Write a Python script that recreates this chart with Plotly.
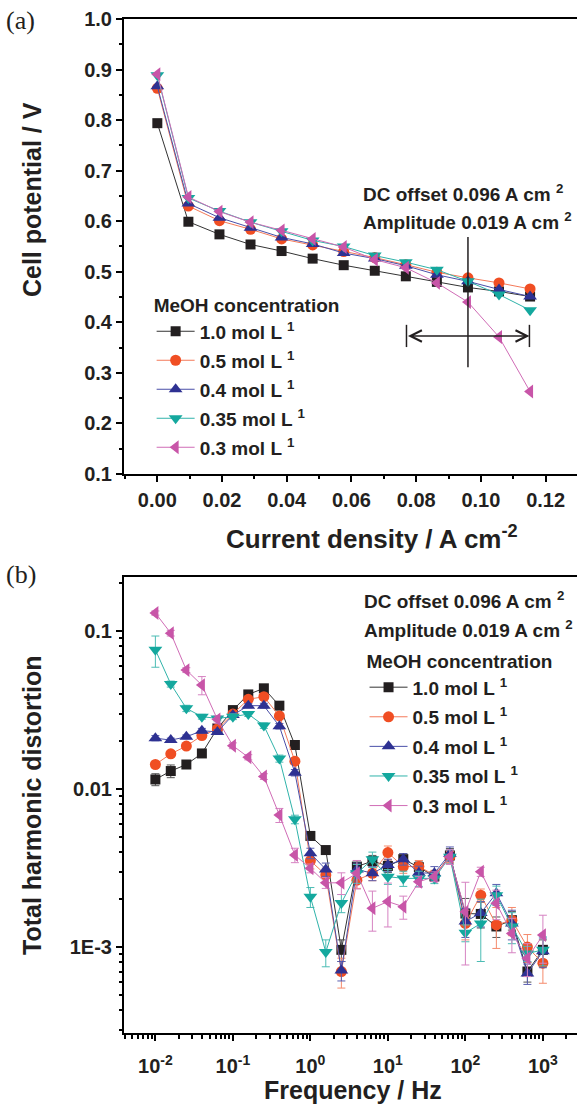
import plotly.graph_objects as go

# ---------------- data: panel (a) ----------------
current_density = [0, 0.0096, 0.0192, 0.0288, 0.0384, 0.048, 0.0576, 0.0672, 0.0768, 0.0864, 0.096, 0.1056, 0.1152]
v_10 = [0.794, 0.599, 0.574, 0.554, 0.541, 0.526, 0.513, 0.502, 0.491, 0.480, 0.469, 0.461, 0.451]
v_05 = [0.863, 0.630, 0.601, 0.584, 0.565, 0.553, 0.540, 0.528, 0.514, 0.499, 0.488, 0.478, 0.466]
v_04 = [0.867, 0.635, 0.607, 0.587, 0.568, 0.555, 0.537, 0.526, 0.512, 0.494, 0.481, 0.465, 0.451]
v_035 = [0.889, 0.646, 0.620, 0.598, 0.580, 0.562, 0.550, 0.532, 0.519, 0.504, 0.481, 0.455, 0.424]
v_03 = [0.891, 0.648, 0.619, 0.598, 0.582, 0.565, 0.549, 0.524, 0.508, 0.478, 0.440, 0.371, 0.263]

dc_offset = 0.096
amplitude = 0.019

# ---------------- data: panel (b) ----------------
frequency = [0.01, 0.0158, 0.0251, 0.0398, 0.0631, 0.1, 0.158, 0.251, 0.398, 0.631, 1.0, 1.58, 2.51,
             3.98, 6.31, 10, 15.8, 25.1, 39.8, 63.1, 100, 158, 251, 398, 631, 1000]
thd_10 = [0.0115, 0.013, 0.0143, 0.0168, 0.0242, 0.0316, 0.0397, 0.0434, 0.0337, 0.019, 0.00505, 0.00411, 0.00096,
          0.00323, 0.0035, 0.00326, 0.0036, 0.0032, 0.0028, 0.0038, 0.00163, 0.00162, 0.00135, 0.00148, 0.0007, 0.00096]
err_10 = [0.001, 0.0012, 0.0008, 0.0008, 0.001, 0.001, 0.001, 0.0012, 0.001, 0.0008, 0.0003, 0.0002, 0.00015,
          0.0003, 0.0003, 0.0003, 0.0003, 0.0003, 0.0002, 0.0004, 0.0004, 0.0003, 0.0002, 0.0002, 0.0001, 0.00015]
thd_05 = [0.0143, 0.0167, 0.0187, 0.0218, 0.024, 0.0298, 0.037, 0.0384, 0.029, 0.015, 0.00352, 0.00286, 0.0007,
          0.00265, 0.00293, 0.00396, 0.00323, 0.00323, 0.00286, 0.00373, 0.00141, 0.00213, 0.00138, 0.00148, 0.001, 0.00079]
err_05 = [0.0006, 0.0006, 0.0006, 0.0008, 0.0008, 0.001, 0.001, 0.001, 0.001, 0.0006, 0.0004, 0.0003, 0.00015,
          0.0003, 0.0003, 0.0004, 0.0003, 0.0003, 0.0002, 0.0003, 0.0003, 0.0002, 0.0004, 0.0003, 0.0002, 0.0002]
thd_04 = [0.021, 0.0204, 0.0214, 0.0234, 0.023, 0.0294, 0.0337, 0.0337, 0.025, 0.0127, 0.00392, 0.0031, 0.00071,
          0.0031, 0.00293, 0.0033, 0.0036, 0.00295, 0.00293, 0.0039, 0.00145, 0.00164, 0.00219, 0.00141, 0.00068, 0.00094]
err_04 = [0.0008, 0.0006, 0.0006, 0.0008, 0.0008, 0.001, 0.001, 0.0012, 0.001, 0.0006, 0.0003, 0.0003, 0.0001,
          0.0003, 0.0003, 0.0003, 0.0003, 0.0003, 0.0003, 0.0004, 0.0003, 0.0003, 0.0003, 0.0003, 0.0001, 0.0002]
thd_035 = [0.076, 0.0462, 0.0324, 0.0287, 0.028, 0.0287, 0.0298, 0.0252, 0.0156, 0.00643, 0.00208, 0.00093, 0.0019,
           0.00293, 0.00359, 0.00279, 0.00272, 0.00272, 0.00272, 0.00373, 0.00123, 0.00141, 0.00213, 0.00135, 0.00091, 0.00096]
err_035 = [0.017, 0.002, 0.0015, 0.001, 0.001, 0.0012, 0.001, 0.001, 0.0008, 0.0004, 0.0003, 0.00018, 0.00025,
           0.0004, 0.0004, 0.0003, 0.0003, 0.0003, 0.0002, 0.0004, 0.00015, 0.0006, 0.0003, 0.0003, 0.0001, 0.0002]
thd_03 = [0.13, 0.097, 0.0566, 0.0455, 0.0276, 0.0188, 0.0159, 0.012, 0.00684, 0.00382, 0.00315, 0.00255, 0.00255,
          0.00293, 0.00176, 0.00194, 0.0018, 0.00259, 0.00279, 0.00373, 0.00167, 0.003, 0.00189, 0.00122, 0.00085, 0.00119]
err_03 = [0.004, 0.004, 0.002, 0.006, 0.0015, 0.0008, 0.0006, 0.0005, 0.0007, 0.0004, 0.0002, 0.0002, 0.0004,
          0.0006, 0.0005, 0.0006, 0.0003, 0.0002, 0.0002, 0.0004, 0.0009, 0.0002, 0.0004, 0.0003, 0.0002, 0.0004]

labels = ["1.0 mol L <sup>1</sup>", "0.5 mol L <sup>1</sup>", "0.4 mol L <sup>1</sup>",
          "0.35 mol L <sup>1</sup>", "0.3 mol L <sup>1</sup>"]
x_ticks_b = [0.01, 0.1, 1, 10, 100, 1000]
x_ticktext_b = ["10<sup>-2</sup>", "10<sup>-1</sup>", "10<sup>0</sup>", "10<sup>1</sup>", "10<sup>2</sup>", "10<sup>3</sup>"]
y_ticks_b = [0.1, 0.01, 0.001]
y_ticktext_b = ["0.1", "0.01", "1E-3"]

# ---------------- styles ----------------
marker_colors = ["#231f20", "#f04e23", "#2e3192", "#14a89e", "#c855a8"]
line_colors = ["#333333", "#f47a5a", "#4a4fa8", "#30b3aa", "#d06cb6"]
err_colors = ["#555555", "#f58a6c", "#5a5fb0", "#4cbcb4", "#d683c2"]
symbols = ["square", "circle", "triangle-up", "triangle-down", "triangle-left"]
sizes = [10, 11, 12, 12, 12]
FONT = "Liberation Sans, Arial, sans-serif"
INK = "#231f20"


def bold(size):
    return dict(family=FONT, size=size, color=INK, weight="bold")


fig = go.Figure()

series_a = [v_10, v_05, v_04, v_035, v_03]
for i, ys in enumerate(series_a):
    fig.add_trace(go.Scatter(
        x=current_density, y=ys, mode="lines+markers", name=labels[i],
        line=dict(color=line_colors[i], width=1),
        marker=dict(symbol=symbols[i], size=sizes[i], color=marker_colors[i]),
        xaxis="x", yaxis="y", legend="legend", legendgroup="a%d" % i))

series_b = [(thd_10, err_10), (thd_05, err_05), (thd_04, err_04), (thd_035, err_035), (thd_03, err_03)]
for i, (ys, es) in enumerate(series_b):
    fig.add_trace(go.Scatter(
        x=frequency, y=ys, mode="lines+markers", name=labels[i],
        line=dict(color=line_colors[i], width=1),
        marker=dict(symbol=symbols[i], size=sizes[i], color=marker_colors[i]),
        error_y=dict(type="data", array=es, color=err_colors[i], thickness=1, width=4),
        xaxis="x2", yaxis="y2", legend="legend2", legendgroup="b%d" % i))

axis_common = dict(showline=True, linecolor="black", linewidth=2, ticks="outside",
                   tickcolor="black", tickwidth=1.5, ticklen=6, showgrid=False, zeroline=False,
                   tickfont=bold(20))

minor_x_b = [m * 10 ** e for e in range(-3, 4) for m in range(2, 10)]
minor_y_b = [m * 10 ** e for e in range(-4, 0) for m in range(2, 10)]

fig.update_layout(
    width=577, height=1110,
    margin=dict(l=124, r=0, t=19, b=77),
    paper_bgcolor="white", plot_bgcolor="white",
    font=dict(family=FONT, color=INK),
    xaxis=dict(**axis_common, domain=[0, 1], anchor="y", range=[-0.0103, 0.1297],
               dtick=0.02, tick0=0, tickformat=".2f", mirror=True, ticklabelstandoff=1,
               minor=dict(dtick=0.01, ticks="outside", ticklen=3.5, tickwidth=1.5, tickcolor="black")),
    yaxis=dict(**axis_common, domain=[0.5513, 1.0], anchor="x", range=[0.0999, 1.0001],
               dtick=0.1, tick0=0, tickformat=".1f",
               minor=dict(dtick=0.05, ticks="outside", ticklen=3.5, tickwidth=1.5, tickcolor="black")),
    xaxis2=dict(**axis_common, type="log", domain=[0, 1], anchor="y2", range=[-2.405, 3.44],
                tickmode="array", tickvals=x_ticks_b, ticktext=x_ticktext_b, mirror=True,
                ticklabelstandoff=8,
                minor=dict(tickmode="array", tickvals=minor_x_b, ticks="outside", ticklen=3.5,
                           tickwidth=1.5, tickcolor="black")),
    yaxis2=dict(**axis_common, type="log", domain=[0, 0.4497], anchor="x2", range=[-3.544, -0.658],
                tickmode="array", tickvals=y_ticks_b, ticktext=y_ticktext_b,
                minor=dict(tickmode="array", tickvals=minor_y_b, ticks="outside", ticklen=3.5,
                           tickwidth=1.5, tickcolor="black")),
    legend=dict(x=0.061, y=0.735, xanchor="left", yanchor="top", bgcolor="rgba(0,0,0,0)",
                font=bold(19), itemwidth=38,
                title=dict(text="MeOH concentration", font=bold(19)),
                tracegroupgap=1.3, traceorder="grouped"),
    legend2=dict(x=0.531, y=0.384, xanchor="left", yanchor="top", bgcolor="rgba(0,0,0,0)",
                 font=bold(19), itemwidth=38,
                 title=dict(text="MeOH concentration", font=bold(19)),
                 tracegroupgap=1.9, traceorder="grouped"),
    showlegend=True,
)

# DC offset / amplitude marker in panel (a)
lo = dc_offset - amplitude
hi = dc_offset + amplitude
arrow_y = 0.373
fig.add_shape(type="line", xref="x", yref="y", x0=dc_offset, x1=dc_offset, y0=0.311, y1=0.569,
              line=dict(color=INK, width=1.5))
fig.add_shape(type="line", xref="x", yref="y", x0=lo, x1=lo, y0=arrow_y - 0.022, y1=arrow_y + 0.022,
              line=dict(color=INK, width=1.5))
fig.add_shape(type="line", xref="x", yref="y", x0=hi, x1=hi, y0=arrow_y - 0.022, y1=arrow_y + 0.022,
              line=dict(color=INK, width=1.5))
fig.add_annotation(x=hi, y=arrow_y, ax=lo, ay=arrow_y, xref="x", yref="y", axref="x", ayref="y",
                   text="", showarrow=True, arrowhead=5, startarrowhead=5, arrowside="end+start",
                   arrowsize=1.5, startarrowsize=1.5, arrowwidth=1.5, arrowcolor=INK)

texts = [
    ("DC offset 0.096 A cm <sup>2</sup>", 0.5225, 0.8287),
    ("Amplitude 0.019 A cm <sup>2</sup>", 0.5225, 0.8008),
    ("DC offset 0.096 A cm <sup>2</sup>", 0.5247, 0.4270),
    ("Amplitude 0.019 A cm <sup>2</sup>", 0.5247, 0.3984),
]
for t, x, y in texts:
    fig.add_annotation(text=t, x=x, y=y, xref="paper", yref="paper", xanchor="left", yanchor="middle",
                       showarrow=False, font=bold(19))

fig.add_annotation(text="Cell potential / V", x=-0.203, y=0.8215, xref="paper", yref="paper",
                   textangle=-90, showarrow=False, font=bold(25), xanchor="center", yanchor="middle")
fig.add_annotation(text="Total harmonic distortion", x=-0.203, y=0.2249, xref="paper", yref="paper",
                   textangle=-90, showarrow=False, font=bold(25), xanchor="center", yanchor="middle")
fig.add_annotation(text="Current density / A cm<sup>-2</sup>", x=0.5475, y=0.489, xref="paper",
                   yref="paper", showarrow=False, font=bold(26), xanchor="center", yanchor="middle")
fig.add_annotation(text="Frequency / Hz", x=0.5055, y=-0.0562, xref="paper", yref="paper",
                   showarrow=False, font=bold(25), xanchor="center", yanchor="middle")

panel_font = dict(family="Liberation Serif, Times New Roman, serif", size=26, color=INK)
fig.add_annotation(text="(a)", x=-0.228, y=0.999, xref="paper", yref="paper", showarrow=False,
                   font=panel_font, xanchor="center", yanchor="middle")
fig.add_annotation(text="(b)", x=-0.228, y=0.4517, xref="paper", yref="paper", showarrow=False,
                   font=panel_font, xanchor="center", yanchor="middle")

fig.write_html("out.html")
